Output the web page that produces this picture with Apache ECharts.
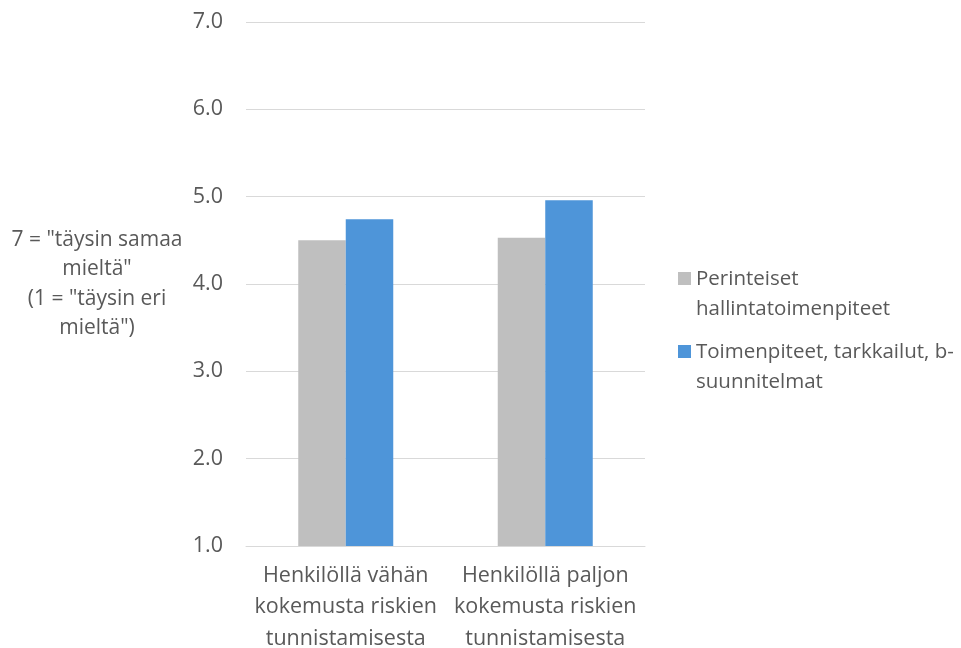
<!DOCTYPE html>
<html>
<head>
<meta charset="utf-8">
<script src="https://cdn.jsdelivr.net/npm/echarts@6/dist/echarts.min.js"></script>
<style>
html,body{margin:0;padding:0;background:#fff;}
#chart{width:961px;height:648px;}
</style>
</head>
<body>
<div id="chart"></div>
<script>
const categories = [
  'Henkilöllä vähän\nkokemusta riskien\ntunnistamisesta',
  'Henkilöllä paljon\nkokemusta riskien\ntunnistamisesta'
];
const seriesNames = [
  'Perinteiset\nhallintatoimenpiteet',
  'Toimenpiteet, tarkkailut, b-\nsuunnitelmat'
];
const traditional = [4.50, 4.53];
const measures = [4.74, 4.96];
const yAxisTitle = '7 = "täysin samaa\nmieltä"\n(1 = "täysin eri\nmieltä")';

const FONT = '"Open Sans"';
const TXT = '#595959';
const iconPath = 'path://M0,0L13,0L13,13L0,13Z M6,44L6.02,44L6.02,43.98Z';

const chart = echarts.init(document.getElementById('chart'));
chart.setOption({
  animation: false,
  textStyle: { fontFamily: FONT, color: TXT },
  grid: { left: 246, right: 316, top: 22, bottom: 102, containLabel: false, outerBoundsMode: 'none' },
  legend: {
    orient: 'vertical',
    left: 673,
    top: 259,
    itemWidth: 13,
    itemHeight: 44,
    itemGap: 13,
    icon: iconPath,
    textStyle: { fontFamily: FONT, fontSize: 20.5, color: TXT, lineHeight: 30 },
    data: seriesNames
  },
  xAxis: {
    type: 'category',
    data: categories,
    axisLine: { lineStyle: { color: '#d9d9d9', width: 1 } },
    axisTick: { show: false },
    axisLabel: { fontFamily: FONT, fontSize: 21.5, color: TXT, lineHeight: 31.5, margin: 14, interval: 0 }
  },
  yAxis: {
    type: 'value',
    min: 1,
    max: 7,
    interval: 1,
    name: yAxisTitle,
    nameLocation: 'middle',
    nameRotate: 0,
    nameGap: 149,
    nameTextStyle: { fontFamily: FONT, fontSize: 21, color: TXT, lineHeight: 29.5, align: 'center', verticalAlign: 'middle' },
    axisLine: { show: false },
    axisTick: { show: false },
    splitLine: { lineStyle: { color: '#d9d9d9', width: 1 } },
    axisLabel: { fontFamily: FONT, fontSize: 21.5, color: TXT, margin: 23, formatter: v => v.toFixed(1) }
  },
  series: [
    { name: seriesNames[0], type: 'bar', data: traditional, barWidth: 47.5, barGap: '0%', itemStyle: { color: '#bfbfbf' } },
    { name: seriesNames[1], type: 'bar', data: measures, barWidth: 47.5, barGap: '0%', itemStyle: { color: '#4e95d9' } }
  ]
});
</script>
</body>
</html>
